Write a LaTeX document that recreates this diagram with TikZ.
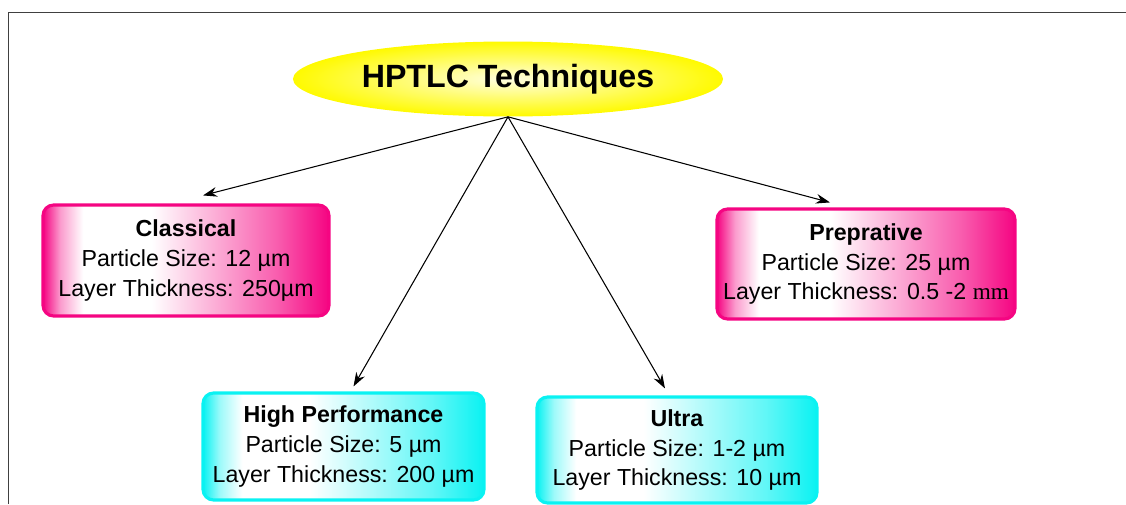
\documentclass[tikz,border=0pt]{standalone}
\usepackage{fontspec}
\setmainfont{Liberation Sans}
\newfontfamily\serifmm{Liberation Serif}
\usepackage{tikz}
\usetikzlibrary{shapes.geometric,arrows.meta,calc}
\usepackage{xcolor}
\definecolor{cPink}{RGB}{245,5,130}
\definecolor{cAqua}{RGB}{10,242,242}
\definecolor{cYel}{RGB}{255,250,0}
\definecolor{cFrame}{RGB}{64,64,64}
\pgfdeclarehorizontalshading{pinkglow}{100bp}{color(0bp)=(cPink);
  color(25bp)=(cPink); color(28bp)=(cPink!40); color(32bp)=(white);
  color(44bp)=(white); color(66bp)=(cPink!65); color(75bp)=(cPink);
  color(100bp)=(cPink)}
\pgfdeclarehorizontalshading{aquaglow}{100bp}{color(0bp)=(cAqua);
  color(25bp)=(cAqua); color(28bp)=(cAqua!40); color(32bp)=(white);
  color(44bp)=(white); color(66bp)=(cAqua!65); color(75bp)=(cAqua);
  color(100bp)=(cAqua)}
\tikzset{
  basebox/.style={rectangle,rounded corners=6pt,align=center,
                  font=\fontsize{13.2}{17}\selectfont,line width=1.8pt},
  pinknode/.style={basebox,shading=pinkglow,draw=cPink},
  aquanode/.style={basebox,shading=aquaglow,draw=cAqua},
  rootnode/.style={ellipse,inner color=cYel!12,outer color=cYel,
                   minimum width=8.42cm,minimum height=1.5cm,
                   font=\fontsize{18.3}{22}\selectfont\bfseries},
  arr/.style={-{Stealth[length=8pt,width=5.5pt]},line width=0.6pt,color=black},
  frame/.style={draw=cFrame,line width=1pt}
}
\newcommand{\um}{\textmu m}

\begin{document}
\begin{tikzpicture}[x=0.02cm,y=-0.02cm]
  \useasboundingbox (0,0) rectangle (1126,504);

  % frame
  \draw[frame] (8.5,504) -- (8.5,12.5) -- (1126,12.5);

  \node[rootnode] (root) at (508,79) {HPTLC Techniques};

  \node[pinknode,minimum width=5.72cm,minimum height=2.22cm] (cls) at (186,260.5)
      {\textbf{Classical}\\Particle Size: 12 \um\\Layer Thickness: 250\um};
  \node[pinknode,minimum width=5.96cm,minimum height=2.2cm] (prep) at (866,264)
      {\textbf{Preprative}\\Particle Size: 25 \um\\Layer Thickness: 0.5 -2 {\serifmm mm}};
  \node[aquanode,minimum width=5.62cm,minimum height=2.14cm] (hp) at (343.5,446.5)
      {\textbf{High Performance}\\Particle Size: 5 \um\\Layer Thickness: 200 \um};
  \node[aquanode,minimum width=5.6cm,minimum height=2.12cm] (ult) at (677,450)
      {\textbf{Ultra}\\Particle Size: 1-2 \um\\Layer Thickness: 10 \um};

  \draw[arr] (root.south) -- ($(cls.north)+(17,-8)$);
  \draw[arr] (root.south) -- ($(hp.north)+(10,-5)$);
  \draw[arr] (root.south) -- ($(ult.north)+(-12,-7)$);
  \draw[arr] (root.south) -- ($(prep.north)+(-36,-5)$);

\end{tikzpicture}
\end{document}
